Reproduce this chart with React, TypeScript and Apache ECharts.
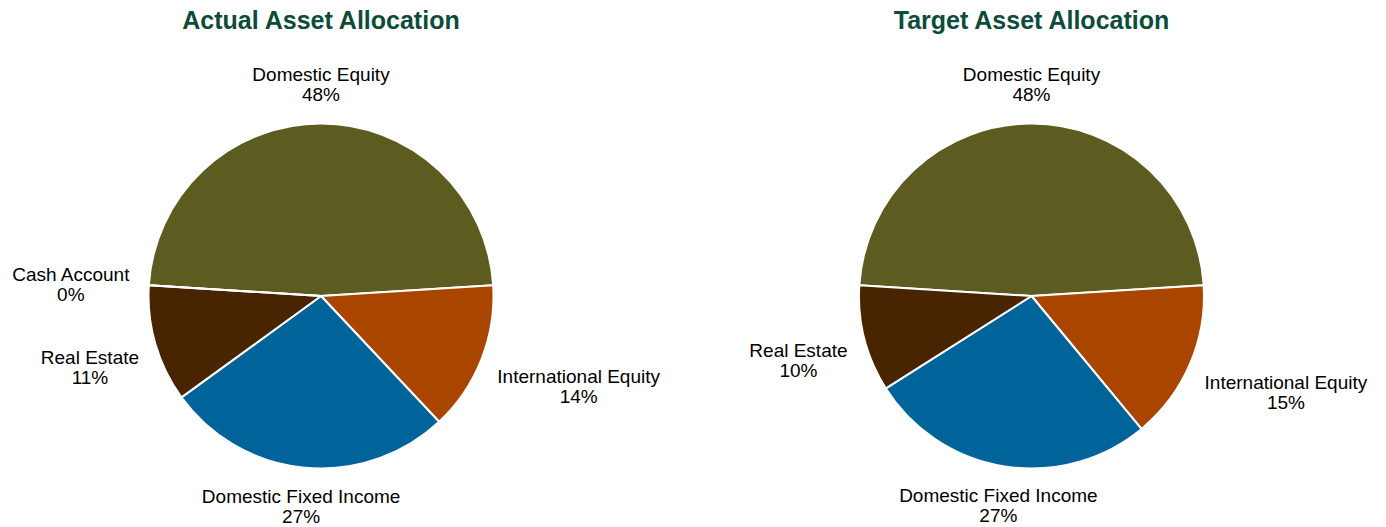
import React, { useEffect, useRef } from "react";
import * as echarts from "echarts";

const actualCategories = ["Domestic Equity", "International Equity", "Domestic Fixed Income", "Real Estate", "Cash Account"];
const actualValues = [48, 14, 27, 11, 0];
const targetCategories = ["Domestic Equity", "International Equity", "Domestic Fixed Income", "Real Estate"];
const targetValues = [48, 15, 27, 10];
const sliceColors = ["#5C5B20", "#AA4500", "#00639A", "#482500", "#7F7F7F"];
const titles = ["Actual Asset Allocation", "Target Asset Allocation"];

const START = 90 + 48 * 3.6 / 2;
const RADIUS = 172.5;
const GAP = 19;
const FONT = "'Liberation Sans', Arial, Helvetica, sans-serif";

function makeLayout(values: number[], cx: number, cy: number, r: number) {
  return (params: any) => {
    const total = values.reduce((a, b) => a + b, 0);
    let before = 0;
    for (let i = 0; i < params.dataIndex; i++) before += values[i];
    const midDeg = START - ((before + values[params.dataIndex] / 2) / total) * 360;
    const a = (midDeg * Math.PI) / 180;
    const dx = Math.cos(a);
    const dy = -Math.sin(a);
    const w = params.labelRect.width;
    const h = params.labelRect.height;
    const tx = Math.abs(dx) > 1e-6 ? w / 2 / Math.abs(dx) : Infinity;
    const ty = Math.abs(dy) > 1e-6 ? h / 2 / Math.abs(dy) : Infinity;
    const t = Math.min(tx, ty);
    const xOff = Math.abs(dx) > 0.5 ? (dx * w) / 2 : dx * t;
    return {
      x: cx + dx * (r + GAP) + xOff + (dx > 0.5 ? 4 : 0),
      y: cy + dy * (r + GAP + t) + (dx < -0.5 ? 4 : 0),
      align: "center",
      verticalAlign: "middle",
    };
  };
}

function pieSeries(cats: string[], values: number[], cx: number, cy: number) {
  return {
    type: "pie",
    center: [cx, cy],
    radius: RADIUS,
    startAngle: START,
    clockwise: true,
    avoidLabelOverlap: false,
    silent: true,
    data: cats.map((c, i) => ({ name: c, value: values[i], itemStyle: { color: sliceColors[i] } })),
    itemStyle: { borderColor: "#ffffff", borderWidth: 2 },
    label: {
      show: true,
      position: "outside",
      formatter: (p: any) => `${p.name}\n${Math.round(p.percent)}%`,
      fontFamily: FONT,
      fontSize: 19,
      lineHeight: 20,
      color: "#000000",
    },
    labelLine: { show: false },
    labelLayout: makeLayout(values, cx, cy, RADIUS),
    emphasis: { disabled: true },
  };
}

export default function App() {
  const ref = useRef<HTMLDivElement>(null);
  useEffect(() => {
    if (!ref.current) return;
    const chart = echarts.init(ref.current, undefined, { renderer: "svg" });
    const L = { cx: 321, cy: 296 };
    const R = { cx: 1031.5, cy: 296 };
    chart.setOption({
      animation: false,
      backgroundColor: "#ffffff",
      graphic: [
        {
          type: "text",
          x: L.cx,
          y: 20,
          style: { text: titles[0], align: "center", verticalAlign: "middle", font: `bold 25px ${FONT}`, fill: "#0D4B3B" },
        },
        {
          type: "text",
          x: R.cx,
          y: 20,
          style: { text: titles[1], align: "center", verticalAlign: "middle", font: `bold 25px ${FONT}`, fill: "#0D4B3B" },
        },
      ],
      series: [
        pieSeries(actualCategories, actualValues, L.cx, L.cy),
        pieSeries(targetCategories, targetValues, R.cx, R.cy),
      ],
    });
    return () => chart.dispose();
  }, []);
  return <div ref={ref} style={{ position: "absolute", left: 0, top: 0, width: 1386, height: 527 }} />;
}
